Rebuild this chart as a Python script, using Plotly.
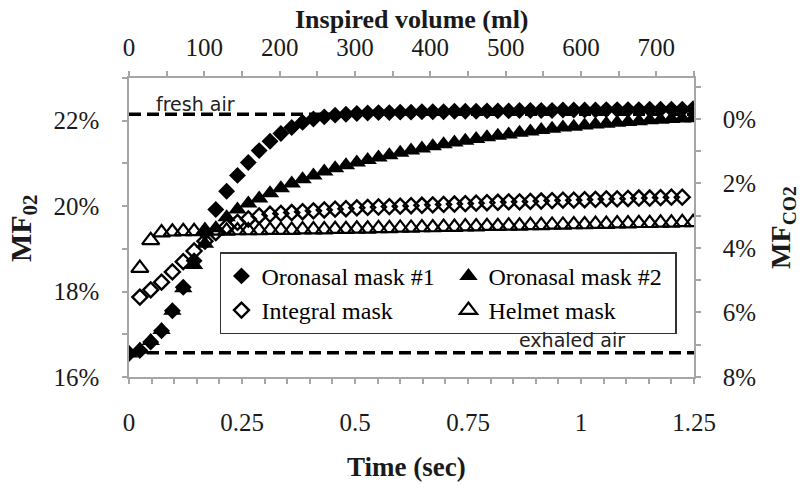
import plotly.graph_objects as go

# ---------------- data ----------------
DT = 0.024
t_full = [round(DT * i, 3) for i in range(53)]          # 0 .. 1.248 s
t_int = [round(DT * i, 3) for i in range(1, 52)]        # 0.024 .. 1.224 s
t_helm = [round(DT * i, 3) for i in range(1, 53)]       # 0.024 .. 1.248 s

oronasal1 = [16.55, 16.62, 16.82, 17.08, 17.55, 18.10, 18.72, 19.38, 19.92, 20.35,
             20.72, 21.02, 21.30, 21.52, 21.70, 21.84, 21.96, 22.04, 22.09, 22.13,
             22.15, 22.17, 22.18, 22.19, 22.19, 22.20, 22.20, 22.21, 22.21, 22.21,
             22.22, 22.22, 22.22, 22.23, 22.23, 22.23, 22.24, 22.24, 22.24, 22.24,
             22.25, 22.25, 22.25, 22.25, 22.26, 22.26, 22.26, 22.26, 22.27, 22.27,
             22.27, 22.27, 22.28]

oronasal2 = [16.55, 16.64, 16.84, 17.10, 17.55, 18.08, 18.62, 19.12, 19.48, 19.74,
             19.92, 20.06, 20.18, 20.30, 20.42, 20.53, 20.63, 20.72, 20.81, 20.89,
             20.96, 21.02, 21.08, 21.14, 21.19, 21.25, 21.30, 21.35, 21.40, 21.45,
             21.49, 21.53, 21.57, 21.61, 21.65, 21.68, 21.72, 21.75, 21.78, 21.81,
             21.84, 21.86, 21.89, 21.91, 21.93, 21.95, 21.97, 21.99, 22.01, 22.02,
             22.04, 22.05, 22.06]

integral = [17.87, 18.04, 18.22, 18.46, 18.70, 18.95, 19.18, 19.38, 19.52, 19.62,
            19.70, 19.77, 19.81, 19.83, 19.85, 19.87, 19.89, 19.91, 19.93, 19.94,
            19.96, 19.97, 19.98, 19.99, 20.00, 20.01, 20.02, 20.03, 20.04, 20.05,
            20.06, 20.07, 20.08, 20.09, 20.10, 20.10, 20.11, 20.12, 20.13, 20.14,
            20.14, 20.15, 20.16, 20.17, 20.17, 20.18, 20.19, 20.19, 20.20, 20.21,
            20.21]

helmet = [18.55, 19.20, 19.38, 19.40, 19.41, 19.41, 19.42, 19.42, 19.42, 19.43,
          19.43, 19.43, 19.44, 19.44, 19.44, 19.45, 19.45, 19.45, 19.46, 19.46,
          19.47, 19.47, 19.48, 19.48, 19.49, 19.49, 19.50, 19.50, 19.51, 19.51,
          19.52, 19.52, 19.53, 19.53, 19.54, 19.54, 19.55, 19.55, 19.56, 19.56,
          19.57, 19.57, 19.58, 19.58, 19.59, 19.59, 19.60, 19.60, 19.61, 19.61,
          19.62, 19.62]

# reference levels
vol_span = [0, 750]            # inspired volume axis (ml)
fresh_air_o2 = 22.15           # % O2 (left axis)
exhaled_air_co2 = 7.25         # % CO2 (right axis)

time_ticks = [0, 0.25, 0.5, 0.75, 1, 1.25]
time_labels = ["0", "0.25", "0.5", "0.75", "1", "1.25"]

# ---------------- figure ----------------
SERIF = "Liberation Serif"
GRAY = "#a6a6a6"

fig = go.Figure()

fig.add_trace(go.Scatter(x=vol_span, y=[fresh_air_o2, fresh_air_o2], xaxis="x2", yaxis="y",
                         mode="lines", line=dict(color="black", width=3.5, dash="12px,6px"),
                         showlegend=False, hoverinfo="skip"))
fig.add_trace(go.Scatter(x=vol_span, y=[exhaled_air_co2, exhaled_air_co2], xaxis="x2", yaxis="y2",
                         mode="lines", line=dict(color="black", width=3.5, dash="12px,6px"),
                         showlegend=False, hoverinfo="skip"))

fig.add_trace(go.Scatter(x=t_full, y=oronasal1, mode="markers", name="Oronasal mask #1",
                         marker=dict(symbol="diamond", size=13, color="black",
                                     line=dict(width=0))))
fig.add_trace(go.Scatter(x=t_full, y=oronasal2, mode="markers", name="Oronasal mask #2",
                         marker=dict(symbol="triangle-up", size=16, color="black",
                                     line=dict(width=0))))
fig.add_trace(go.Scatter(x=t_int, y=integral, mode="markers", name="Integral mask",
                         marker=dict(symbol="diamond-open", size=11.5, color="black",
                                     line=dict(width=2.4, color="black"))))
fig.add_trace(go.Scatter(x=t_helm, y=helmet, mode="markers", name="Helmet mask",
                         marker=dict(symbol="triangle-up-open", size=15, color="black",
                                     line=dict(width=2.2, color="black"))))

tickfont = dict(family=SERIF, size=25, color="#1a1a1a")
axis_common = dict(showline=True, linecolor=GRAY, linewidth=1.5, ticks="outside",
                   ticklen=5, tickwidth=1.5, tickcolor=GRAY, showgrid=False,
                   zeroline=False, tickfont=tickfont)

fig.update_layout(
    width=803, height=489,
    margin=dict(l=129, r=109, t=78, b=112),
    plot_bgcolor="white", paper_bgcolor="white",
    xaxis=dict(range=[0, 1.25], tickvals=time_ticks, ticktext=time_labels,
               minor=dict(dtick=0.05, tick0=0, ticks="outside", ticklen=5,
                          tickwidth=1.5, tickcolor=GRAY),
               ticklabelstandoff=17, anchor="y", **axis_common),
    xaxis2=dict(range=vol_span, overlaying="x", side="top", anchor="y",
                tick0=0, dtick=100,
                minor=dict(dtick=50, tick0=0, ticks="outside", ticklen=5,
                           tickwidth=1.5, tickcolor=GRAY),
                ticklabelstandoff=5, **axis_common),
    yaxis=dict(range=[16, 23], tick0=16, dtick=2, ticksuffix="%",
               minor=dict(dtick=1, tick0=16, ticks="outside", ticklen=5,
                          tickwidth=1.5, tickcolor=GRAY),
               ticklabelstandoff=18, **axis_common),
    yaxis2=dict(range=[8, -1.27], overlaying="y", side="right", anchor="x",
                tick0=0, dtick=2, ticksuffix="%",
                minor=dict(dtick=1, tick0=0, ticks="outside", ticklen=5,
                           tickwidth=1.5, tickcolor=GRAY),
                ticklabelstandoff=17, **axis_common),
    legend=dict(orientation="h", x=0.161, y=0.417, xanchor="left", yanchor="top",
                bgcolor="white", bordercolor="#333333", borderwidth=1.5,
                font=dict(family=SERIF, size=24, color="black"),
                entrywidth=182, entrywidthmode="pixels", itemwidth=30,
                traceorder="normal"),
    showlegend=True,
)

fig.add_annotation(text="<b>Inspired volume (ml)</b>", xref="paper", yref="paper",
                   x=0.5, y=1.197, xanchor="center", yanchor="middle", showarrow=False,
                   font=dict(family=SERIF, size=26, color="#1a1a1a"))
fig.add_annotation(text="<b>Time (sec)</b>", xref="paper", yref="paper",
                   x=0.492, y=-0.301, xanchor="center", yanchor="middle", showarrow=False,
                   font=dict(family=SERIF, size=27, color="#1a1a1a"))
fig.add_annotation(text="<b>MF<sub>02</sub></b>", xref="paper", yref="paper",
                   x=-0.1876, y=0.498, xanchor="center", yanchor="middle", showarrow=False,
                   textangle=-90, font=dict(family=SERIF, size=30, color="#1a1a1a"))
fig.add_annotation(text="<b>MF<sub>CO2</sub></b>", xref="paper", yref="paper",
                   x=1.1575, y=0.502, xanchor="center", yanchor="middle", showarrow=False,
                   textangle=-90, font=dict(family=SERIF, size=28, color="#1a1a1a"))
fig.add_annotation(text="fresh air", xref="x", yref="y", x=0.148, y=22.39,
                   showarrow=False, xanchor="center", yanchor="middle",
                   font=dict(family="DejaVu Sans", size=19, color="#222222"))
fig.add_annotation(text="exhaled air", xref="x", yref="y", x=0.98, y=16.87,
                   showarrow=False, xanchor="center", yanchor="middle",
                   font=dict(family="DejaVu Sans", size=19, color="#222222"))

fig.write_html("out.html", config={"displayModeBar": False},
               post_script="document.body.style.margin='0';"
                           "document.body.style.overflow='hidden';")
